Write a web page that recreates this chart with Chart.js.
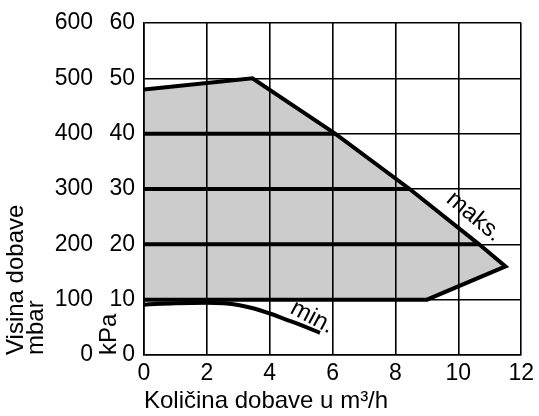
<!DOCTYPE html>
<html>
<head>
<meta charset="utf-8">
<script src="https://cdn.jsdelivr.net/npm/chart.js@4.4.1/dist/chart.umd.min.js"></script>
<style>
  html, body { margin: 0; padding: 0; background: #fff; }
  #wrap { width: 539px; height: 416px; }
</style>
</head>
<body>
<div id="wrap"><canvas id="chart" width="539" height="416"></canvas></div>
<script>
'use strict';

// --- data ---
const flowTicks = [0, 2, 4, 6, 8, 10, 12];          // m³/h
const kpaTicks = [0, 10, 20, 30, 40, 50, 60];         // kPa
const mbarTicks = [0, 100, 200, 300, 400, 500, 600];  // mbar

// outline of the working range (maks. edge, then back along 10 kPa)
const areaX = [0, 3.45, 6.08, 8.45, 10.66, 11.5, 9, 0];
const areaY = [48, 50, 40, 30, 20, 16, 10, 10];

// thick level lines inside the range
const levelY = [40, 30, 20];
const levelEndX = [6.08, 8.45, 10.66];

// min. curve
const minX = [0, 1, 2, 2.5, 3, 3.5, 4, 4.5, 5, 5.6];
const minY = [9.1, 9.35, 9.45, 9.35, 9.05, 8.4, 7.5, 6.45, 5.4, 4.0];

const FONT = 'Liberation Sans, Arial, Helvetica, sans-serif';
const INK = '#000';

const toPoints = (xs, ys) => xs.map((x, i) => ({ x, y: ys[i] }));

// text labels written along the curves
const curveLabels = {
    id: 'curveLabels',
    afterDatasetsDraw(chart) {
        const { ctx, scales: { x, y } } = chart;
        const items = [
            { text: 'maks.', x: 10.5, y: 25.0, angle: 40 },
            { text: 'min.', x: 5.35, y: 6.8, angle: 28 }
        ];
        ctx.save();
        ctx.fillStyle = INK;
        ctx.font = '24px ' + FONT;
        ctx.textAlign = 'center';
        ctx.textBaseline = 'middle';
        items.forEach(it => {
            ctx.save();
            ctx.translate(x.getPixelForValue(it.x), y.getPixelForValue(it.y));
            ctx.rotate(it.angle * Math.PI / 180);
            ctx.fillText(it.text, 0, 0);
            ctx.restore();
        });
        ctx.restore();
    }
};

const datasets = [
    {
        data: toPoints(areaX, areaY),
        borderColor: INK, borderWidth: 4,
        backgroundColor: 'rgba(0,0,0,0.2)',
        fill: 'shape', pointRadius: 0, tension: 0,
        borderJoinStyle: 'miter'
    },
    ...levelY.map((lv, i) => ({
        data: toPoints([0, levelEndX[i]], [lv, lv]),
        borderColor: INK, borderWidth: 4, pointRadius: 0, fill: false
    })),
    {
        data: toPoints(minX, minY),
        borderColor: INK, borderWidth: 4, pointRadius: 0, fill: false,
        tension: 0.4
    }
];

const tickFont = { family: FONT, size: 23 };

new Chart(document.getElementById('chart'), {
    type: 'line',
    data: { datasets },
    options: {
        responsive: false,
        animation: false,
        layout: { padding: { top: 23, right: 15, left: 0, bottom: 0 } },
        plugins: { legend: { display: false }, tooltip: { enabled: false } },
        scales: {
            x: {
                type: 'linear', min: 0, max: 12,
                afterBuildTicks: s => { s.ticks = flowTicks.map(v => ({ value: v })); },
                afterFit: s => { s.height = 61; },
                grid: { color: INK, lineWidth: 1.6, drawTicks: false },
                border: { color: INK, width: 1.6 },
                ticks: { color: INK, font: tickFont, padding: 5, maxRotation: 0 },
                title: {
                    display: true, text: 'Količina dobave u m³/h', align: 'start',
                    color: INK, font: { family: FONT, size: 24, lineHeight: 1.2 }, padding: 0
                }
            },
            y: {
                type: 'linear', position: 'left', min: 0, max: 60, weight: 1,
                afterBuildTicks: s => { s.ticks = kpaTicks.map(v => ({ value: v })); },
                afterFit: s => { s.width = 47; },
                grid: { color: INK, lineWidth: 1.6, drawTicks: false },
                border: { color: INK, width: 1.6 },
                ticks: { color: INK, font: tickFont, padding: 9 },
                title: {
                    display: true, text: 'kPa', align: 'start', color: INK,
                    font: { family: FONT, size: 24, lineHeight: 1 }, padding: 0
                }
            },
            mbar: {
                type: 'linear', position: 'left', min: 0, max: 600, weight: 2,
                afterBuildTicks: s => { s.ticks = mbarTicks.map(v => ({ value: v })); },
                afterFit: s => { s.width = 97; },
                grid: { display: false, drawTicks: false },
                border: { display: false },
                ticks: { color: INK, font: tickFont, padding: 4 },
                title: {
                    display: true, text: ['Visina dobave', 'mbar'], align: 'start', color: INK,
                    font: { family: FONT, size: 24, lineHeight: 0.85 }, padding: { top: 6 }
                }
            }
        }
    },
    plugins: [curveLabels]
});
</script>
</body>
</html>
